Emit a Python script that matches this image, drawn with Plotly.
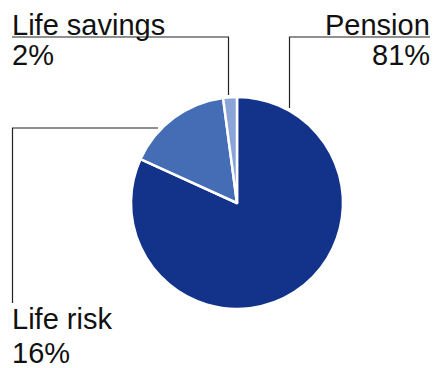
import plotly.graph_objects as go

labels = ["Pension", "Life risk", "Life savings"]
values = [81.8, 16.1, 2.1]
pct_text = ["81%", "16%", "2%"]
colors = ["#13338a", "#446db5", "#8aa4d8"]

W, H = 435, 368
cx, cy, r = 237, 203, 106

fig = go.Figure()
fig.add_trace(go.Pie(
    labels=labels, values=values, sort=False, direction="clockwise", rotation=0,
    marker=dict(colors=colors, line=dict(color="white", width=2.5)),
    textinfo="none", hoverinfo="label+percent", showlegend=False,
    domain=dict(x=[(cx - r) / W, (cx + r) / W], y=[(H - cy - r) / H, (H - cy + r) / H]),
))

line = dict(color="#222222", width=1.2)
# leader lines (pixel coords on hidden axes)
shapes = [
    dict(type="path", path="M 12,37 L 228.5,37 L 228.5,95", line=line),
    dict(type="path", path="M 430,37 L 289.5,37 L 289.5,108", line=line),
    dict(type="path", path="M 158,128 L 12.5,128 L 12.5,303", line=line),
]
for s in shapes:
    s.update(xref="x", yref="y", layer="below")

font = dict(family="Liberation Sans, Arial, sans-serif", size=29, color="#111111")
ann = [
    dict(x=9.5, y=25, text=labels[2], xanchor="left"),
    dict(x=9.5, y=55, text=pct_text[2], xanchor="left"),
    dict(x=432, y=25, text=labels[0], xanchor="right"),
    dict(x=432, y=55, text=pct_text[0], xanchor="right"),
    dict(x=10, y=319, text=labels[1], xanchor="left"),
    dict(x=10, y=353, text=pct_text[1], xanchor="left"),
]
for a in ann:
    a.update(xref="x", yref="y", yanchor="middle", showarrow=False, font=font)

fig.update_layout(
    width=W, height=H, margin=dict(l=0, r=0, t=0, b=0),
    paper_bgcolor="white", plot_bgcolor="rgba(0,0,0,0)",
    xaxis=dict(range=[0, W], visible=False, fixedrange=True),
    yaxis=dict(range=[H, 0], visible=False, fixedrange=True),
    shapes=shapes, annotations=ann,
)
fig.write_html("out.html", config={"displayModeBar": False},
               post_script="document.body.style.margin='0';document.body.style.overflow='hidden';")
